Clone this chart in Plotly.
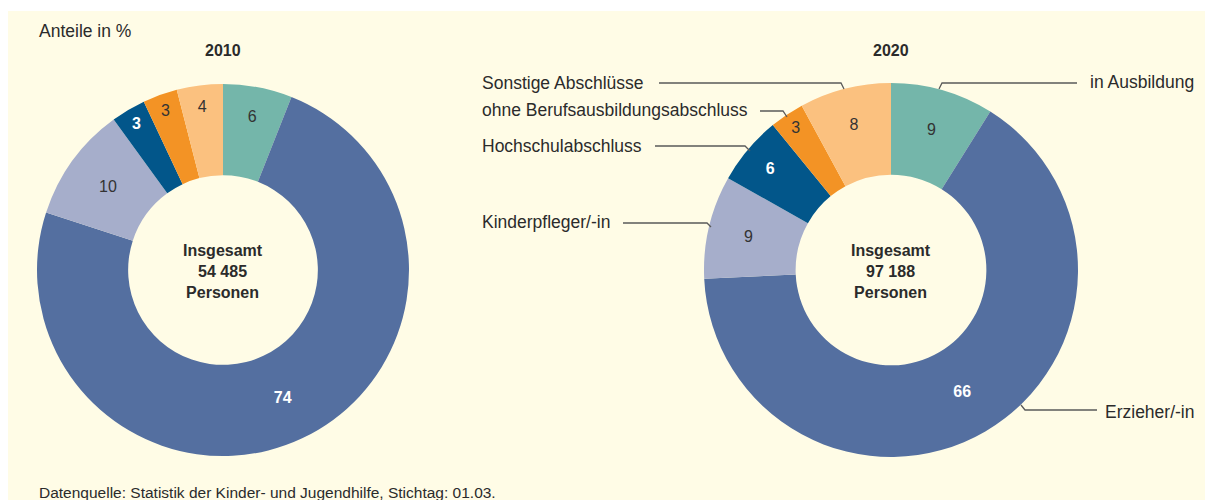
import plotly.graph_objects as go

# ---- data ----
categories = ["in Ausbildung", "Erzieher/-in", "Kinderpfleger/-in", "Hochschulabschluss",
              "ohne Berufsausbildungsabschluss", "Sonstige Abschlüsse"]
values_2010 = [6, 74, 10, 3, 3, 4]
values_2020 = [9, 66, 9, 6, 3, 8]
total_2010 = "54 485"
total_2020 = "97 188"
years = ["2010", "2020"]

colors = ["#74B6AA", "#546FA0", "#A6AECB", "#02568A", "#F39325", "#FBC17F"]
text_colors = ["#333333", "#FFFFFF", "#333333", "#FFFFFF", "#333333", "#333333"]
templates = ["%{value}", "<b>%{value}</b>", "%{value}", "<b>%{value}</b>", "%{value}", "%{value}"]

W, H = 1205, 500
BG = "#FFFCE6"
FONT = "Liberation Sans, Arial, sans-serif"
DARK = "#2B2B2B"


def px(x):
    return x / W


def py(y):
    return 1 - y / H


fig = go.Figure()

pies = [
    (values_2010, 223, 270, 186),
    (values_2020, 891, 270, 187),
]
for vals, cx, cy, r in pies:
    fig.add_trace(go.Pie(
        labels=categories,
        values=vals,
        sort=False,
        direction="clockwise",
        rotation=0,
        hole=0.51,
        marker=dict(colors=colors, line=dict(width=0)),
        texttemplate=templates,
        textposition="inside",
        insidetextorientation="horizontal",
        textfont=dict(family=FONT, size=16, color=text_colors),
        domain=dict(x=[px(cx - r), px(cx + r)], y=[py(cy + r), py(cy - r)]),
        showlegend=False,
        hoverinfo="label+value",
    ))

shapes = [
    dict(type="rect", xref="paper", yref="paper", x0=px(8), x1=1, y0=0, y1=py(11),
         fillcolor=BG, line=dict(width=0), layer="below"),
]

leaders = [
    [(659, 83), (841, 83), (844, 89)],
    [(760, 111), (783, 111), (787, 117)],
    [(655, 146), (745, 146), (750, 151)],
    [(623, 223), (707, 223), (711, 227)],
    [(1077, 83), (942, 83), (939, 89)],
    [(1097, 410), (1025, 410), (1021, 405)],
]
for pts in leaders:
    path = "M " + " L ".join(f"{px(x)},{py(y)}" for x, y in pts)
    shapes.append(dict(type="path", xref="paper", yref="paper", path=path,
                       line=dict(color="#5A5A5A", width=1.3)))

annotations = []


def add_text(text, x, y, xanchor="left", size=17.5, bold=False, color=DARK):
    if bold:
        text = f"<b>{text}</b>"
    annotations.append(dict(text=text, x=px(x), y=py(y), xref="paper", yref="paper",
                            xanchor=xanchor, yanchor="middle", showarrow=False,
                            font=dict(family=FONT, size=size, color=color)))


add_text("Anteile in %", 37, 31)
add_text(years[0], 223, 51, xanchor="center", size=16, bold=True)
add_text(years[1], 891, 51, xanchor="center", size=16, bold=True)

for (vals, cx, cy, r), tot in zip(pies, [total_2010, total_2020]):
    annotations.append(dict(
        text=f"<b>Insgesamt<br>{tot}<br>Personen</b>", x=px(cx), y=py(cy + 1),
        xref="paper", yref="paper", xanchor="center", yanchor="middle",
        showarrow=False, align="center",
        font=dict(family=FONT, size=16, color=DARK)))

add_text(categories[5], 480, 83)
add_text(categories[4], 480, 110)
add_text(categories[3], 480, 146)
add_text(categories[2], 480, 222)
add_text(categories[0], 1196, 82, xanchor="right")
add_text(categories[1], 1196, 412, xanchor="right")
add_text("Datenquelle: Statistik der Kinder- und Jugendhilfe, Stichtag: 01.03.", 37, 492, size=15.5)

fig.update_layout(
    width=W, height=H,
    margin=dict(l=0, r=0, t=0, b=0),
    paper_bgcolor="#FFFFFF",
    plot_bgcolor=BG,
    shapes=shapes,
    annotations=annotations,
)

fig.write_html("out.html", config={"displayModeBar": False},
               post_script="document.body.style.margin='0';")
